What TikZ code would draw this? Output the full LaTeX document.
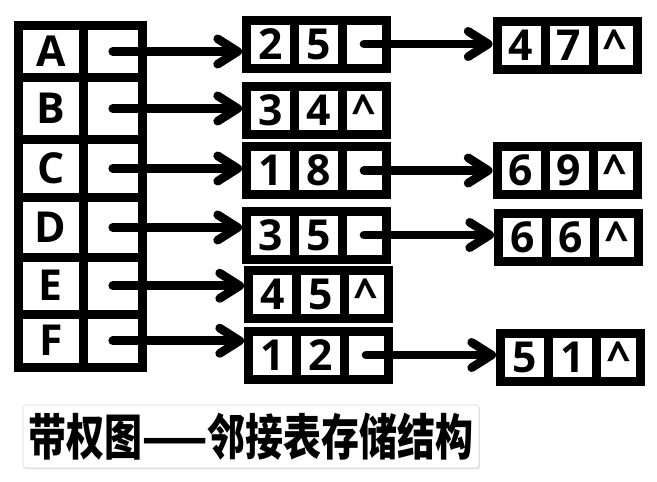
\documentclass[tikz,border=0pt]{standalone}
\usepackage{fontspec}
\newfontfamily\cellfont{Open Sans}
\newfontfamily\cjk{Noto Sans CJK SC}
\usetikzlibrary{arrows.meta,shadows}

\begin{document}
\begin{tikzpicture}[line cap=round,line join=round,x=0.75pt,y=-0.75pt,
  cell/.style={draw,line width=6.75pt,line join=miter,inner sep=0pt,minimum width=36pt,minimum height=36pt,font=\cellfont\bfseries\fontsize{32}{34}\selectfont},
  ptr/.style={line width=6.5pt,line cap=round,-{Straight Barb[length=15pt,width=19pt,round]}},
  titlebox/.style={draw=black!15,fill=white,rounded corners=2pt,drop shadow={opacity=0.25,shadow xshift=0.8pt,shadow yshift=-0.8pt},minimum width=342pt,minimum height=47.25pt,inner sep=0pt,font=\cjk\bfseries\fontsize{37}{40}\selectfont}]
\useasboundingbox (0,0) rectangle (657,482);

\node[cell,minimum width=48.4pt,minimum height=39pt] (A) at (50.75,51.5) {A};
\node[cell,minimum width=44.6pt,minimum height=39pt] (Ap) at (112.75,51.5) {};
\node[cell,minimum width=48.4pt,minimum height=46.5pt] (B) at (50.75,108.5) {B};
\node[cell,minimum width=44.6pt,minimum height=46.5pt] (Bp) at (112.75,108.5) {};
\node[cell,minimum width=48.4pt,minimum height=43.5pt] (C) at (50.75,168.5) {C};
\node[cell,minimum width=44.6pt,minimum height=43.5pt] (Cp) at (112.75,168.5) {};
\node[cell,minimum width=48.4pt,minimum height=45pt] (D) at (50.75,227.5) {D};
\node[cell,minimum width=44.6pt,minimum height=45pt] (Dp) at (112.75,227.5) {};
\node[cell,minimum width=48.4pt,minimum height=42.4pt] (E) at (50.75,285.75) {E};
\node[cell,minimum width=44.6pt,minimum height=42.4pt] (Ep) at (112.75,285.75) {};
\node[cell,minimum width=48.4pt,minimum height=40.1pt] (F) at (50.75,340.75) {F};
\node[cell,minimum width=44.6pt,minimum height=40.1pt] (Fp) at (112.75,340.75) {};

\node[cell] (A1) at (270.5,44) {2};
\node[cell] (A2) at (318.5,44) {5};
\node[cell,minimum width=33pt] (A3) at (364,44) {};
\node[cell] (B1) at (270.5,110) {3};
\node[cell] (B2) at (318.5,110) {4};
\node[cell,minimum width=33pt] (B3) at (364,110) {\textasciicircum};
\node[cell] (C1) at (270.5,170.5) {1};
\node[cell] (C2) at (318.5,170.5) {8};
\node[cell,minimum width=33pt] (C3) at (364,170.5) {};
\node[cell] (D1) at (270.5,235) {3};
\node[cell] (D2) at (318.5,235) {5};
\node[cell,minimum width=33pt] (D3) at (364,235) {};
\node[cell] (E1) at (272.5,294) {4};
\node[cell] (E2) at (320.5,294) {5};
\node[cell,minimum width=33pt] (E3) at (366,294) {\textasciicircum};
\node[cell] (F1) at (272.5,355) {1};
\node[cell] (F2) at (320.5,355) {2};
\node[cell,minimum width=33pt] (F3) at (366,355) {};

\node[cell] (Aa1) at (521,45.25) {4};
\node[cell] (Aa2) at (569,45.25) {7};
\node[cell,minimum width=33pt] (Aa3) at (615,45.25) {\textasciicircum};
\node[cell] (Ca1) at (521,170.5) {6};
\node[cell] (Ca2) at (569,170.5) {9};
\node[cell,minimum width=33pt] (Ca3) at (615,170.5) {\textasciicircum};
\node[cell] (Da1) at (522.5,237.5) {6};
\node[cell] (Da2) at (570.5,237.5) {6};
\node[cell,minimum width=33pt] (Da3) at (616.5,237.5) {\textasciicircum};
\node[cell] (Fa1) at (524.5,357.5) {5};
\node[cell] (Fa2) at (572.5,357.5) {1};
\node[cell,minimum width=33pt] (Fa3) at (618.5,357.5) {\textasciicircum};

\draw[ptr] (Ap.center) -- (Ap.center -| A1.west);
\draw[ptr] (Bp.center) -- (Bp.center -| B1.west);
\draw[ptr] (Cp.center) -- (Cp.center -| C1.west);
\draw[ptr] (Dp.center) -- (Dp.center -| D1.west);
\draw[ptr] (Ep.center) -- (Ep.center -| E1.west);
\draw[ptr] (Fp.center) -- (Fp.center -| F1.west);
\draw[ptr] (A3.center) -- (A3.center -| Aa1.west);
\draw[ptr] (C3.center) -- (C3.center -| Ca1.west);
\draw[ptr] (D3.center) -- (D3.center -| Da1.west);
\draw[ptr] (F3.center) -- (F3.center -| Fa1.west);

\node[titlebox] (title) at (251,436.5) {\scalebox{0.77}[1]{带权图——邻接表存储结构}};
\end{tikzpicture}
\end{document}
